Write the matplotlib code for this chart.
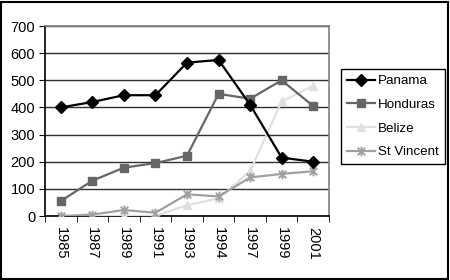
import matplotlib
matplotlib.use("Agg")
import matplotlib.pyplot as plt
from matplotlib.path import Path
from matplotlib.patches import Rectangle

years = ["1985", "1987", "1989", "1991", "1993", "1994", "1997", "1999", "2001"]
panama = [400, 420, 445, 445, 565, 575, 410, 215, 200]
honduras = [55, 130, 178, 195, 222, 450, 432, 500, 405]
belize = [0, 0, 0, 0, 40, 65, 165, 422, 480]
st_vincent = [0, 5, 22, 12, 80, 72, 142, 155, 165]

plt.rcParams['font.family'] = ['Liberation Sans', 'DejaVu Sans']

star = Path([(-1, -1), (1, 1), (-1, 1), (1, -1), (0, -1.3), (0, 1.3)],
            [Path.MOVETO, Path.LINETO, Path.MOVETO, Path.LINETO, Path.MOVETO, Path.LINETO])

fig = plt.figure(figsize=(4.5, 2.8), dpi=100)
ax = fig.add_axes([45/450, 1 - 216/280, (329-45)/450, (216-26)/280])

x = list(range(len(years)))
ax.plot(x, panama, color='black', lw=1.6, marker='D', ms=6, label='Panama', zorder=5)
ax.plot(x, honduras, color='#666666', lw=1.6, marker='s', ms=6, label='Honduras', zorder=4)
ax.plot(x, belize, color='#e0e0e0', lw=1.6, marker='^', ms=6, label='Belize', zorder=3)
ax.plot(x, st_vincent, color='#a0a0a0', lw=1.6, marker=star, ms=7, mew=1.4, label='St Vincent', zorder=3)

ax.set_xlim(-0.5, len(years) - 0.5)
ax.set_ylim(0, 700)
ax.set_yticks(range(0, 701, 100))
ax.set_yticklabels([str(v) for v in range(0, 701, 100)], fontsize=10.5)
ax.yaxis.grid(True, color='#303030', lw=1)
ax.set_axisbelow(True)

ax.set_xticks(x)
ax.set_xticklabels(years, rotation=-90, fontsize=10.5, va='top', ha='center')
ax.tick_params(axis='x', which='major', length=0, pad=8)
ax.set_xticks([i - 0.5 for i in range(len(years) + 1)], minor=True)
ax.tick_params(axis='x', which='minor', length=4, direction='out', color='black')
ax.tick_params(axis='y', length=4, direction='out', pad=3)

for s in ['top', 'right']:
    ax.spines[s].set_color('#808080')
    ax.spines[s].set_linewidth(1.2)
for s in ['left', 'bottom']:
    ax.spines[s].set_color('black')
    ax.spines[s].set_linewidth(1.2)

leg = fig.legend(loc='upper left', bbox_to_anchor=(341/450, 1 - 69/280), fontsize=9.6,
                 frameon=True, fancybox=False, edgecolor='black', framealpha=1,
                 handlelength=2.1, borderpad=0.45, labelspacing=0.85, handletextpad=0.25,
                 borderaxespad=0)
leg.get_frame().set_linewidth(1.0)

fig.patches.append(Rectangle((1/450, 1/280), 447/450, 277/280, transform=fig.transFigure,
                             fill=False, edgecolor='black', lw=1.5))

fig.savefig('out.png', dpi=100)
